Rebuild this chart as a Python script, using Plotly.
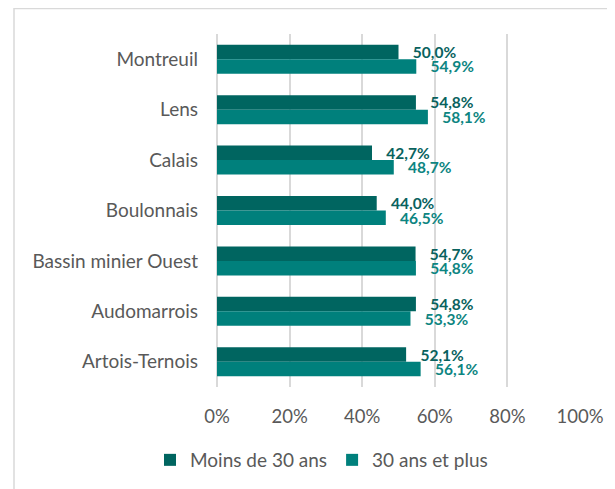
import plotly.graph_objects as go

categories = ["Montreuil", "Lens", "Calais", "Boulonnais", "Bassin minier Ouest", "Audomarrois", "Artois-Ternois"]
moins_30 = [50.0, 54.8, 42.7, 44.0, 54.7, 54.8, 52.1]
plus_30 = [54.9, 58.1, 48.7, 46.5, 54.8, 53.3, 56.1]
series_names = ["Moins de 30 ans", "30 ans et plus"]
tick_vals = [0, 20, 40, 60, 80, 100]
tick_text = ["0%", "20%", "40%", "60%", "80%", "100%"]

DARK = "#006560"
TEAL = "#00807C"
FONT = "Lato"
PAD = "\u00a0\u00a0\u00a0"

fig = go.Figure()
fig.add_trace(go.Bar(
    y=categories, x=moins_30, orientation="h", name=series_names[0],
    marker=dict(color=DARK, line=dict(width=0)),
    texttemplate=PAD + "%{x:.1f}%", textposition="outside", constraintext="none",
    cliponaxis=False,
    textfont=dict(family=FONT, size=15.5, color="#09625E", weight="bold"),
))
fig.add_trace(go.Bar(
    y=categories, x=plus_30, orientation="h", name=series_names[1],
    marker=dict(color=TEAL, line=dict(width=0)),
    texttemplate=PAD + "%{x:.1f}%", textposition="outside", constraintext="none",
    cliponaxis=False,
    textfont=dict(family=FONT, size=15.5, color="#0D8581", weight="bold"),
))

# page body adds an 8px offset; positions below are in window pixels
OFF = 8
W, H = 615, 489
PL, PR, PT, PB = 217, 580, 34, 387  # plot area in window pixels
L = PL - OFF
T = PT - OFF
R = W - (PR - OFF)
B = H - (PB - OFF)
ph = PB - PT
pw = PR - PL

def px_x(p):
    return (p - PL) / pw

def px_y(p):
    return (PB - p) / ph

fig.update_layout(
    width=W, height=H,
    margin=dict(l=L, r=R, t=T, b=B, pad=0),
    paper_bgcolor="white", plot_bgcolor="white",
    barmode="group", bargap=0.425, bargroupgap=0,
    separators=", ",
    font=dict(family=FONT, color="#595959"),
    showlegend=True,
    legend=dict(
        orientation="h", x=px_x(150), y=px_y(460), xanchor="left", yanchor="middle",
        font=dict(family=FONT, size=19, color="#595959"),
        itemsizing="constant", traceorder="normal",
        bgcolor="rgba(0,0,0,0)",
    ),
    xaxis=dict(
        range=[0, 100], tickmode="array", tickvals=tick_vals, ticktext=tick_text,
        showgrid=True, gridcolor="#D9D9D9", gridwidth=1.5,
        zeroline=True, zerolinecolor="#D9D9D9", zerolinewidth=1.5,
        showline=False, ticks="",
        tickfont=dict(family=FONT, size=18.5, color="#595959"),
        ticklabelstandoff=16,
        fixedrange=True,
    ),
    yaxis=dict(
        autorange="reversed", showgrid=False, zeroline=False, showline=False, ticks="",
        tickfont=dict(family=FONT, size=19, color="#595959"),
        ticklabelstandoff=18,
        fixedrange=True,
    ),
    shapes=[dict(
        type="rect", xref="paper", yref="paper",
        x0=px_x(14), x1=px_x(700), y0=px_y(600), y1=px_y(8.5),
        line=dict(color="#D9D9D9", width=1.5), fillcolor="rgba(0,0,0,0)", layer="below",
    )],
)

fig.write_html("out.html")
